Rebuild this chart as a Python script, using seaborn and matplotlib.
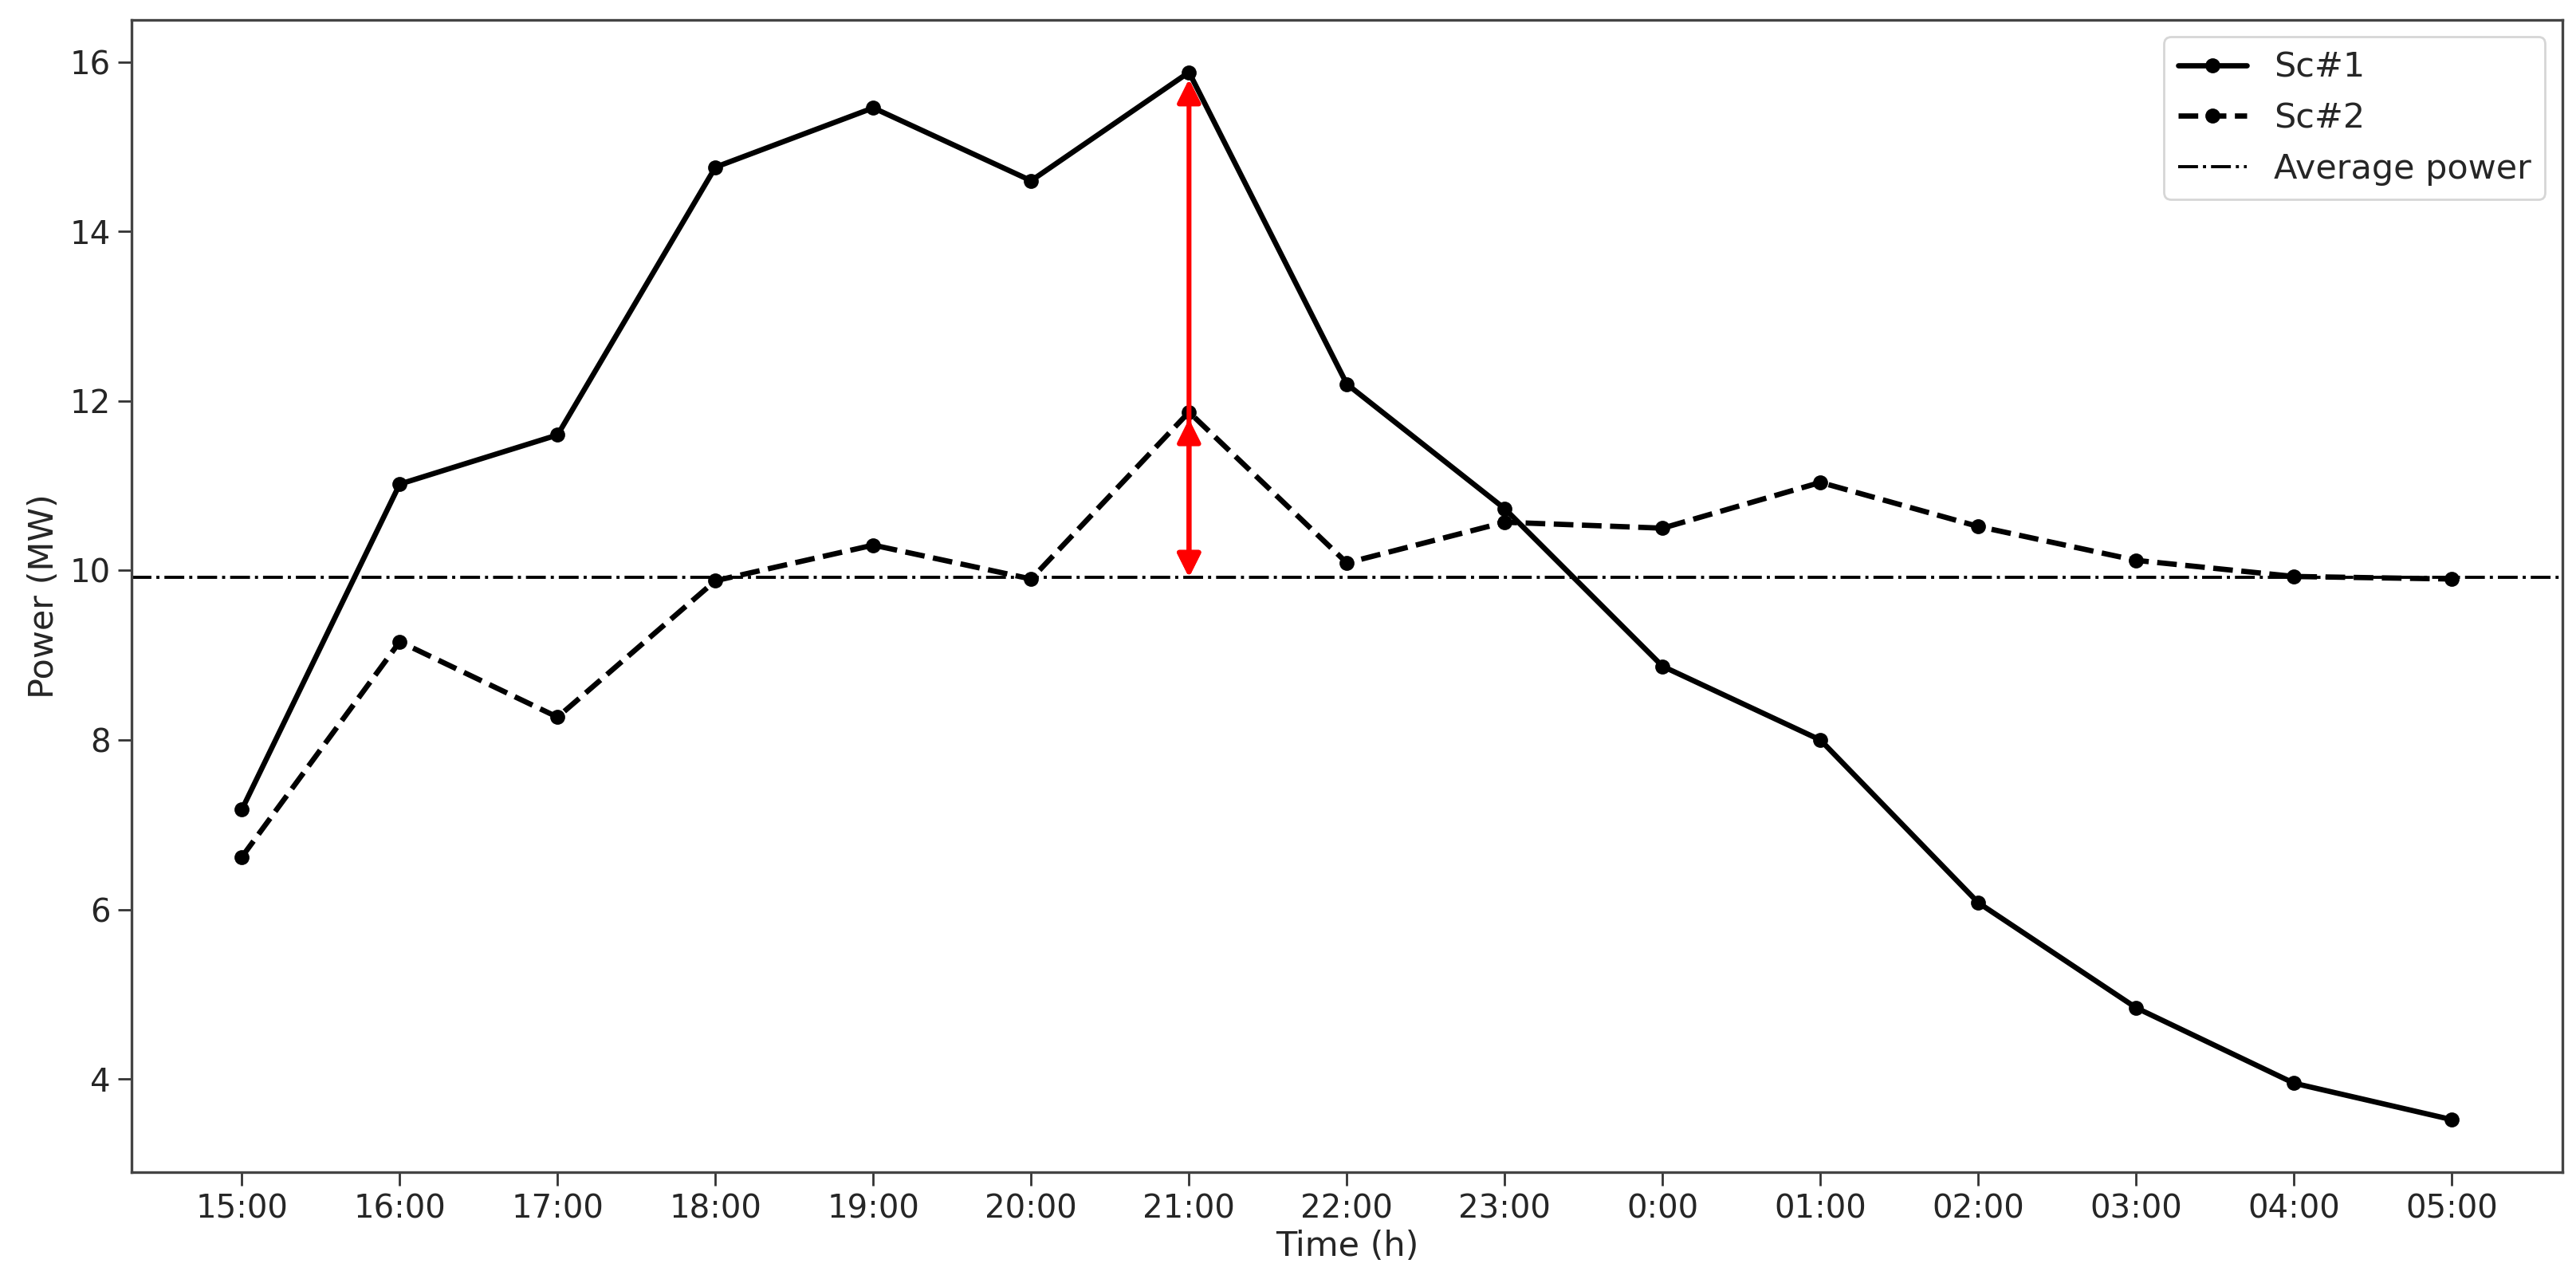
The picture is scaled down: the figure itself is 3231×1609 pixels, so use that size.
import pandas as pd
import seaborn as sns
import matplotlib
matplotlib.use("Agg")
import matplotlib.pyplot as plt

# Datos
horas = ["15:00", "16:00", "17:00", "18:00", "19:00", "20:00", "21:00", "22:00",
         "23:00", "0:00", "01:00", "02:00", "03:00", "04:00", "05:00"]
sc1 = [7.18, 11.02, 11.60, 14.76, 15.46, 14.60, 15.88, 12.20,
       10.73, 8.87, 8.00, 6.08, 4.84, 3.95, 3.52]
sc2 = [6.62, 9.16, 8.27, 9.88, 10.30, 9.90, 11.87, 10.09,
       10.57, 10.50, 11.04, 10.52, 10.12, 9.93, 9.90]
potencia_media = 9.92
hora_pico = "21:00"

sns.set_style("ticks")
plt.rcParams["font.family"] = ["DejaVu Sans"]
plt.rcParams["font.size"] = 14

df = pd.DataFrame({"hora": horas, "Sc#1": sc1, "Sc#2": sc2})
df["pos"] = range(len(df))

fig = plt.figure(figsize=(16.155, 8.045), dpi=200)
ax = fig.add_axes([0.051, 0.0865, 0.9437, 0.898])

sns.lineplot(data=df, x="pos", y="Sc#1", ax=ax, color="black", linewidth=2.4,
             marker="o", markersize=6, markeredgecolor="black", label="Sc#1")
sns.lineplot(data=df, x="pos", y="Sc#2", ax=ax, color="black", linewidth=2.4,
             linestyle="--", marker="o", markersize=6, markeredgecolor="black",
             label="Sc#2")
ax.axhline(potencia_media, color="black", linestyle="-.", linewidth=1.4,
           label="Average power")

# Flechas rojas en la hora pico
i_pico = horas.index(hora_pico)
for valor in [sc1[i_pico], sc2[i_pico]]:
    ax.annotate("", xy=(i_pico, valor - 0.08), xytext=(i_pico, potencia_media),
                arrowprops=dict(arrowstyle="<|-|>", color="red", lw=2.2,
                                mutation_scale=22, shrinkA=0, shrinkB=0))

ax.set_xticks(df["pos"])
ax.set_xticklabels(horas)
ax.margins(x=0.05, y=0.05)
ax.set_xlabel("Time (h)", fontsize=15.5, labelpad=2)
ax.set_ylabel("Power (MW)", fontsize=15.5)
ax.tick_params(axis="both", labelsize=14.5, length=6, width=1, color="#333333")
for s in ax.spines.values():
    s.set_color("#444444")
    s.set_linewidth(1.2)
ax.legend(loc="upper right", fontsize=15.5, frameon=True)

plt.savefig("out.png", dpi=200)
